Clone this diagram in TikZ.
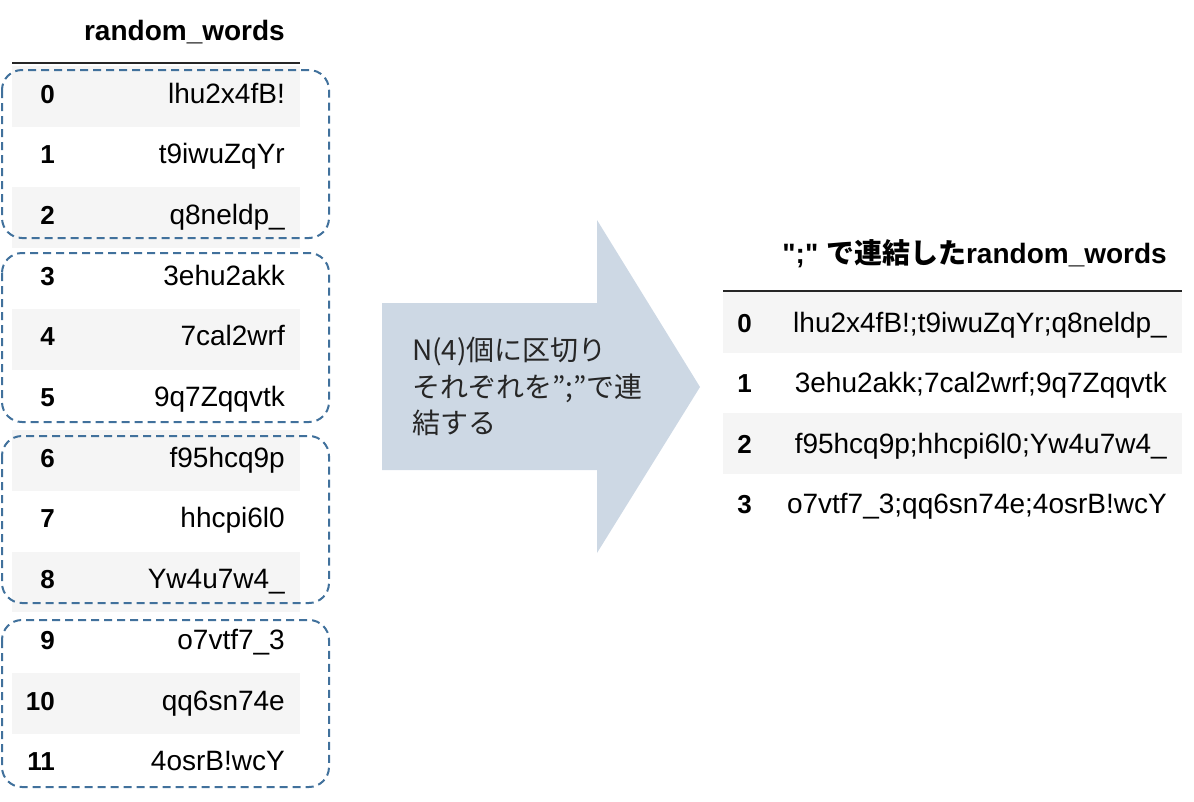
\documentclass[tikz,border=0pt]{standalone}
\usepackage{fontspec}
\setmainfont{Liberation Sans}[Ligatures=TeXOff]
\newfontfamily\jp{Noto Sans CJK JP}[Ligatures=TeXOff]
\begin{document}
\begin{tikzpicture}[x=1pt,y=-1pt,
  cell/.style={inner sep=0pt,font=\fontsize{28}{30}\selectfont},
  idx/.style={cell,anchor=base east,font=\fontsize{26}{30}\selectfont\bfseries},
  val/.style={cell,anchor=base east},
  hdr/.style={cell,anchor=base east,font=\fontsize{28}{30}\selectfont\bfseries},
  stripe/.style={fill=rowgray,draw=none},
  grp/.style={draw=grpblue,line width=2pt,dash pattern=on 8pt off 5pt,rounded corners=20pt},
  rule/.style={draw=black!85,line width=1.6pt},
  jptxt/.style={inner sep=0pt,anchor=base west,font=\jp\fontsize{28}{30}\selectfont,text=black!85}
]
\definecolor{rowgray}{RGB}{245,245,245}
\definecolor{grpblue}{RGB}{65,113,156}
\definecolor{arrowfill}{RGB}{205,216,228}
\useasboundingbox (0,0) rectangle (1194,801);
% left table stripes
\foreach \i in {0,2,4,6,8,10}{
  \path[stripe] (12,{66+60.7*\i}) rectangle (300,{66+60.7*(\i+1)});
}
\draw[rule] (12,63) -- (300,63);
\node[hdr] (lh) at (285,40) {random\_words};
\foreach \i/\w in {0/lhu2x4fB!,1/t9iwuZqYr,2/q8neldp\_,3/3ehu2akk,4/7cal2wrf,5/9q7Zqqvtk,6/f95hcq9p,7/hhcpi6l0,8/Yw4u7w4\_,9/o7vtf7\_3,10/qq6sn74e,11/4osrB!wcY}{
  \node[idx] (li\i) at (55,{103+60.7*\i}) {\i};
  \node[val] (lv\i) at (285,{103+60.7*\i}) {\w};
}
% group boxes
\draw[grp] (2,70) rectangle (329,238);
\draw[grp] (2,253) rectangle (329,422);
\draw[grp] (2,436) rectangle (329,603);
\draw[grp] (2,620) rectangle (329,787);
% big arrow
\fill[arrowfill] (382,303) -- (597,303) -- (597,220) -- (700,387) -- (597,553) -- (597,470) -- (382,470) -- cycle;
\node[jptxt] (t1) at (412,360) {N(4)個に区切り};
\node[jptxt] (t2) at (412,397) {それぞれを”;”で連};
\node[jptxt] (t3) at (412,433) {結する};
% right table
\foreach \i in {0,2}{
  \path[stripe] (723,{292+60.5*\i}) rectangle (1182,{292+60.5*(\i+1)});
}
\draw[rule] (723,291) -- (1182,291);
\node[hdr] (rh) at (1167,263) {";" {\jp\bfseries で連結した}random\_words};
\foreach \i/\w in {0/lhu2x4fB!;t9iwuZqYr;q8neldp\_,1/3ehu2akk;7cal2wrf;9q7Zqqvtk,2/f95hcq9p;hhcpi6l0;Yw4u7w4\_,3/o7vtf7\_3;qq6sn74e;4osrB!wcY}{
  \node[idx] (ri\i) at (752,{332+60.5*\i}) {\i};
  \node[val] (rv\i) at (1167,{332+60.5*\i}) {\w};
}
\end{tikzpicture}
\end{document}
